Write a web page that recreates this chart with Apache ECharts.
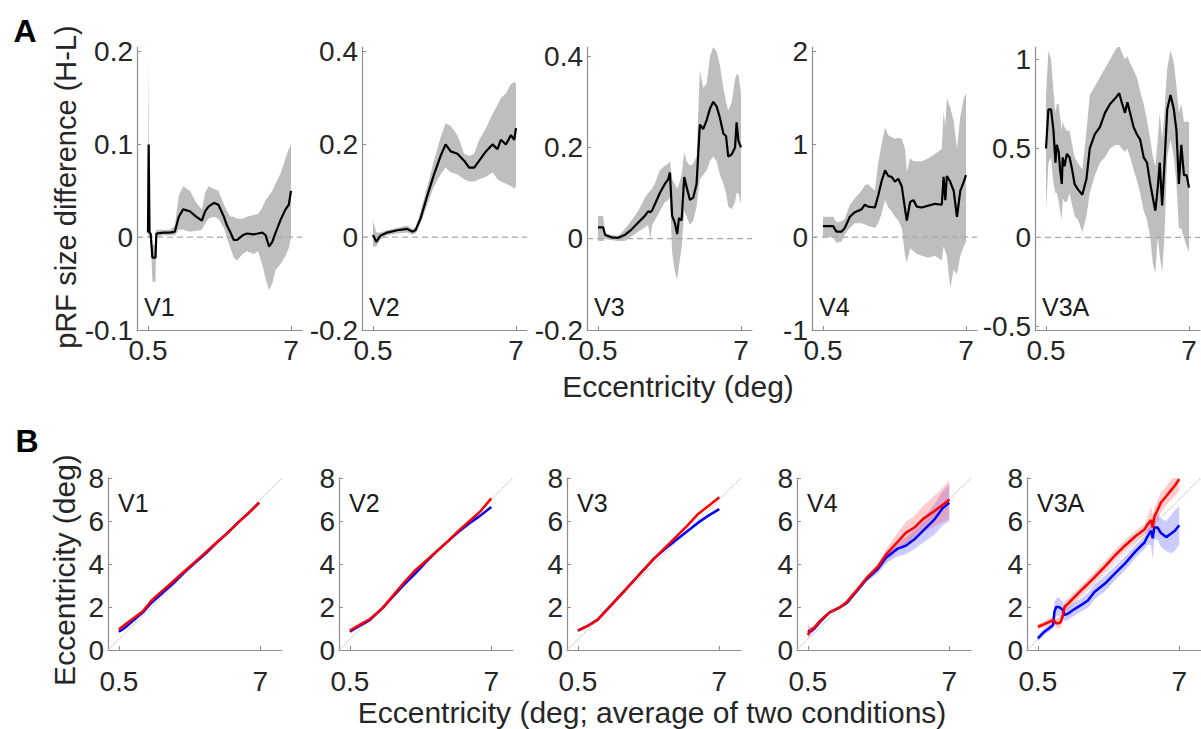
<!DOCTYPE html>
<html>
<head>
<meta charset="utf-8">
<script src="https://cdn.jsdelivr.net/npm/echarts@6/dist/echarts.min.js"></script>
<style>
  html, body { margin: 0; padding: 0; background: #fff; }
  #chart { width: 1201px; height: 729px; }
</style>
</head>
<body>
<div id="chart"></div>
<script>
// ---------- Panel A: pRF size difference (H-L) vs eccentricity ----------
const areaNames = ['V1', 'V2', 'V3', 'V4', 'V3A'];

const v1Ecc  = [0.5, 0.53, 0.57, 0.62, 0.7, 0.84, 0.88, 1.2, 1.5, 1.72, 1.9, 2.1, 2.4, 2.7, 2.95, 3.1, 3.25, 3.5, 3.7, 3.95, 4.1, 4.25, 4.4, 4.55, 4.8, 5.0, 5.3, 5.5, 5.7, 5.85, 6.0, 6.15, 6.3, 6.55, 6.75, 6.9, 7.0];
const v1Mean = [0.005, 0.1, 0.005, 0.004, -0.022, -0.022, 0.004, 0.005, 0.005, 0.006, 0.022, 0.03, 0.028, 0.022, 0.018, 0.028, 0.033, 0.037, 0.035, 0.022, 0.012, 0.005, -0.003, -0.003, 0.002, 0.004, 0.003, 0.004, 0.005, 0.002, -0.01, -0.005, 0.005, 0.02, 0.03, 0.035, 0.05];
const v1Hi   = [0.006, 0.195, 0.01, 0.007, -0.008, -0.008, 0.008, 0.008, 0.008, 0.012, 0.045, 0.055, 0.05, 0.037, 0.03, 0.048, 0.055, 0.052, 0.05, 0.035, 0.028, 0.022, 0.022, 0.02, 0.02, 0.022, 0.024, 0.025, 0.032, 0.04, 0.045, 0.05, 0.058, 0.07, 0.085, 0.095, 0.1];
const v1Lo   = [0.004, 0.0, 0.0, 0.0, -0.048, -0.048, 0.0, 0.002, 0.002, 0.002, 0.008, 0.008, 0.006, 0.007, 0.008, 0.015, 0.02, 0.022, 0.02, 0.01, -0.002, -0.012, -0.022, -0.025, -0.018, -0.015, -0.018, -0.015, -0.03, -0.045, -0.057, -0.05, -0.035, -0.028, -0.02, -0.012, 0.0];

const v2Ecc  = [0.5, 0.65, 0.83, 1.14, 1.6, 2.05, 2.28, 2.43, 2.66, 2.97, 3.27, 3.57, 3.8, 4.03, 4.34, 4.64, 4.87, 5.1, 5.33, 5.63, 5.93, 6.16, 6.31, 6.54, 6.77, 6.92, 7.0];
const v2Mean = [0.005, -0.01, 0.003, 0.01, 0.015, 0.018, 0.012, 0.015, 0.04, 0.09, 0.135, 0.175, 0.2, 0.185, 0.18, 0.165, 0.15, 0.15, 0.165, 0.185, 0.2, 0.19, 0.21, 0.2, 0.22, 0.21, 0.235];
const v2Hi   = [0.035, 0.01, 0.01, 0.015, 0.02, 0.025, 0.018, 0.02, 0.055, 0.11, 0.165, 0.215, 0.245, 0.24, 0.22, 0.18, 0.175, 0.18, 0.21, 0.235, 0.265, 0.285, 0.3, 0.31, 0.33, 0.335, 0.33];
const v2Lo   = [-0.02, -0.02, -0.005, 0.005, 0.008, 0.01, 0.006, 0.008, 0.03, 0.07, 0.11, 0.135, 0.15, 0.14, 0.135, 0.125, 0.12, 0.12, 0.125, 0.13, 0.14, 0.125, 0.12, 0.115, 0.11, 0.105, 0.11];

const v3Ecc  = [0.5, 0.73, 0.83, 1.11, 1.41, 1.71, 2.02, 2.32, 2.63, 2.78, 2.88, 2.96, 3.08, 3.31, 3.54, 3.69, 3.77, 3.87, 3.99, 4.1, 4.18, 4.3, 4.42, 4.52, 4.68, 4.83, 4.98, 5.13, 5.28, 5.44, 5.59, 5.74, 5.89, 6.04, 6.2, 6.32, 6.42, 6.58, 6.73, 6.8, 6.88, 7.0];
const v3Mean = [0.025, 0.025, 0.008, 0.003, 0.002, 0.008, 0.02, 0.035, 0.05, 0.06, 0.058, 0.062, 0.075, 0.1, 0.12, 0.13, 0.145, 0.05, 0.035, 0.01, 0.045, 0.04, 0.135, 0.115, 0.085, 0.09, 0.12, 0.25, 0.24, 0.26, 0.285, 0.3, 0.29, 0.265, 0.23, 0.225, 0.18, 0.185, 0.2, 0.255, 0.215, 0.2];
const v3Hi   = [0.05, 0.05, 0.012, 0.008, 0.006, 0.02, 0.04, 0.06, 0.09, 0.1, 0.105, 0.11, 0.12, 0.15, 0.16, 0.165, 0.17, 0.13, 0.12, 0.11, 0.12, 0.14, 0.19, 0.17, 0.16, 0.165, 0.18, 0.37, 0.33, 0.34, 0.4, 0.42, 0.41, 0.38, 0.33, 0.3, 0.28, 0.3, 0.35, 0.36, 0.36, 0.32];
const v3Lo   = [-0.005, -0.005, 0.0, -0.003, -0.005, -0.005, 0.005, 0.015, 0.025, 0.03, 0.0, 0.03, 0.04, 0.06, 0.08, 0.085, 0.09, -0.03, -0.07, -0.09, -0.06, -0.02, 0.06, 0.05, 0.03, 0.04, 0.07, 0.13, 0.14, 0.15, 0.17, 0.18, 0.17, 0.14, 0.12, 0.1, 0.07, 0.065, 0.08, 0.1, 0.1, 0.075];

const v4Ecc  = [0.5, 0.96, 1.11, 1.34, 1.49, 1.72, 1.95, 2.25, 2.4, 2.55, 2.86, 3.01, 3.16, 3.32, 3.47, 3.62, 3.77, 3.92, 4.08, 4.23, 4.31, 4.46, 4.61, 4.76, 4.99, 5.29, 5.6, 5.9, 5.98, 6.06, 6.13, 6.28, 6.44, 6.59, 6.74, 6.9, 7.0];
const v4Mean = [0.12, 0.12, 0.06, 0.06, 0.1, 0.22, 0.27, 0.3, 0.35, 0.33, 0.32, 0.45, 0.6, 0.72, 0.66, 0.65, 0.6, 0.63, 0.55, 0.3, 0.18, 0.38, 0.4, 0.33, 0.32, 0.34, 0.36, 0.35, 0.65, 0.4, 0.66, 0.6, 0.5, 0.22, 0.5, 0.6, 0.67];
const v4Hi   = [0.22, 0.22, 0.16, 0.17, 0.2, 0.35, 0.42, 0.5, 0.56, 0.57, 0.5, 0.8, 1.0, 1.18, 1.1, 1.08, 1.06, 1.07, 1.06, 0.95, 0.7, 0.85, 0.82, 0.82, 0.82, 0.85, 0.9, 0.95, 1.35, 1.2, 1.5, 1.4, 1.25, 0.95, 1.3, 1.5, 1.55];
const v4Lo   = [0.0, 0.0, -0.06, -0.05, 0.03, 0.1, 0.15, 0.15, 0.14, 0.12, 0.1, 0.15, 0.25, 0.4, 0.32, 0.28, 0.22, 0.18, 0.1, -0.2, -0.27, -0.12, -0.15, -0.18, -0.2, -0.22, -0.2, -0.25, -0.1, -0.15, -0.2, -0.55, -0.35, -0.4, -0.2, -0.1, -0.05];

const v3aEcc  = [0.5, 0.61, 0.73, 0.84, 0.93, 0.99, 1.08, 1.14, 1.22, 1.26, 1.34, 1.45, 1.57, 1.69, 1.8, 1.95, 2.15, 2.34, 2.49, 2.72, 2.95, 3.18, 3.41, 3.64, 3.83, 3.94, 4.09, 4.2, 4.32, 4.48, 4.63, 4.78, 4.94, 5.09, 5.24, 5.36, 5.47, 5.58, 5.67, 5.78, 5.88, 6.01, 6.16, 6.31, 6.43, 6.54, 6.65, 6.77, 6.89, 7.0];
const v3aMean = [0.5, 0.72, 0.72, 0.6, 0.42, 0.52, 0.48, 0.38, 0.3, 0.45, 0.4, 0.47, 0.45, 0.38, 0.3, 0.27, 0.24, 0.33, 0.5, 0.58, 0.62, 0.7, 0.75, 0.78, 0.81, 0.76, 0.7, 0.76, 0.7, 0.62, 0.58, 0.55, 0.45, 0.42, 0.3, 0.22, 0.15, 0.28, 0.42, 0.18, 0.4, 0.72, 0.8, 0.72, 0.6, 0.3, 0.52, 0.35, 0.35, 0.28];
const v3aHi   = [0.8, 1.05, 1.0, 0.82, 0.7, 0.75, 0.75, 0.68, 0.6, 0.65, 0.62, 0.6, 0.6, 0.52, 0.45, 0.42, 0.38, 0.6, 0.8, 0.85, 0.9, 0.95, 1.0, 1.05, 1.08, 1.04, 1.0, 1.02, 0.98, 0.94, 0.9, 0.82, 0.75, 0.66, 0.55, 0.45, 0.4, 0.55, 0.7, 0.55, 0.7, 0.95, 1.05, 0.98, 0.85, 0.7, 0.75, 0.65, 0.65, 0.65];
const v3aLo   = [0.15, 0.42, 0.45, 0.3, 0.25, 0.25, 0.2, 0.15, 0.1, 0.22, 0.2, 0.2, 0.25, 0.18, 0.12, 0.1, 0.03, 0.12, 0.25, 0.35, 0.42, 0.45, 0.5, 0.52, 0.52, 0.5, 0.48, 0.5, 0.45, 0.38, 0.32, 0.25, 0.15, 0.1, 0.0, -0.15, -0.2, 0.0, -0.1, -0.2, 0.0, 0.45, 0.55, 0.45, 0.3, 0.05, 0.05, 0.0, -0.05, -0.08];

const diffYMin   = [-0.1, -0.2, -0.2, -1, -0.52];
const diffYMax   = [0.205, 0.41, 0.42, 2.05, 1.07];
const diffYTicks = [[-0.1, 0, 0.1, 0.2], [-0.2, 0, 0.2, 0.4], [-0.2, 0, 0.2, 0.4], [-1, 0, 1, 2], [-0.5, 0, 0.5, 1]];
const eccTicks   = [0.5, 7];

// ---------- Panel B: eccentricity in each condition vs average eccentricity ----------
const b1Ecc  = [0.5, 0.8, 1.2, 1.6, 2.0, 2.5, 3.0, 3.5, 4.0, 4.5, 5.0, 5.5, 6.0, 6.5, 6.95];
const b1Red  = [0.95, 1.2, 1.5, 1.8, 2.3, 2.75, 3.2, 3.65, 4.1, 4.55, 5.0, 5.45, 5.95, 6.4, 6.85];
const b1Blue = [0.85, 1.05, 1.4, 1.75, 2.2, 2.65, 3.1, 3.6, 4.05, 4.5, 5.0, 5.45, 5.95, 6.4, 6.85];

const b2Ecc  = [0.5, 1.0, 1.4, 2.0, 2.5, 3.0, 3.5, 4.0, 4.5, 5.0, 5.5, 6.0, 6.5, 7.0];
const b2Red  = [0.9, 1.2, 1.42, 1.95, 2.55, 3.15, 3.7, 4.15, 4.6, 5.05, 5.55, 6.0, 6.45, 7.05];
const b2Blue = [0.85, 1.15, 1.38, 1.95, 2.5, 3.05, 3.55, 4.1, 4.6, 5.05, 5.5, 5.9, 6.25, 6.65];

const b3Ecc  = [0.5, 1.0, 1.4, 2.0, 2.5, 3.0, 3.5, 4.0, 4.5, 5.0, 5.5, 6.0, 6.5, 7.0];
const b3Red  = [0.9, 1.15, 1.4, 2.05, 2.6, 3.15, 3.7, 4.25, 4.75, 5.25, 5.75, 6.3, 6.7, 7.1];
const b3Blue = [0.9, 1.15, 1.4, 2.05, 2.6, 3.15, 3.7, 4.25, 4.7, 5.1, 5.5, 5.9, 6.25, 6.55];

const b4Ecc    = [0.5, 0.6, 0.8, 1.1, 1.5, 2.0, 2.3, 2.8, 3.2, 3.7, 4.1, 4.6, 5.0, 5.4, 5.8, 6.3, 6.7, 7.0];
const b4Red    = [0.7, 0.9, 1.05, 1.4, 1.75, 2.0, 2.25, 2.85, 3.35, 3.85, 4.45, 5.0, 5.45, 5.7, 6.1, 6.45, 6.75, 7.0];
const b4RedLo  = [0.5, 0.75, 0.95, 1.32, 1.67, 1.92, 2.17, 2.75, 3.23, 3.7, 4.2, 4.6, 4.95, 5.15, 5.5, 5.75, 5.95, 6.1];
const b4RedHi  = [0.9, 1.05, 1.15, 1.48, 1.83, 2.08, 2.33, 2.95, 3.47, 4.0, 4.7, 5.4, 5.95, 6.25, 6.7, 7.15, 7.55, 7.9];
const b4Blue   = [0.9, 0.85, 1.0, 1.35, 1.75, 2.0, 2.2, 2.8, 3.3, 3.75, 4.3, 4.7, 4.85, 5.15, 5.55, 6.05, 6.6, 6.85];
const b4BlueLo = [0.6, 0.65, 0.9, 1.27, 1.67, 1.92, 2.12, 2.7, 3.18, 3.55, 4.05, 4.35, 4.45, 4.7, 5.0, 5.35, 5.8, 6.0];
const b4BlueHi = [1.2, 1.05, 1.1, 1.43, 1.83, 2.08, 2.28, 2.9, 3.42, 3.95, 4.55, 5.05, 5.25, 5.6, 6.1, 6.75, 7.4, 7.7];

const b5Ecc    = [0.5, 0.8, 1.0, 1.2, 1.26, 1.34, 1.45, 1.55, 1.65, 1.72, 1.88, 2.1, 2.5, 2.8, 3.1, 3.6, 4.0, 4.5, 5.0, 5.4, 5.55, 5.7, 5.78, 5.85, 6.0, 6.15, 6.4, 6.6, 6.8, 7.0];
const b5Red    = [1.08, 1.2, 1.3, 1.39, 1.35, 1.25, 1.25, 1.3, 1.6, 2.0, 2.15, 2.38, 2.78, 3.08, 3.38, 3.9, 4.35, 4.85, 5.3, 5.6, 5.85, 6.05, 5.7, 6.2, 6.5, 6.85, 7.15, 7.4, 7.65, 7.95];
const b5RedLo  = [0.95, 1.05, 1.15, 1.25, 1.15, 1.05, 1.0, 1.05, 1.35, 1.75, 1.95, 2.15, 2.55, 2.85, 3.15, 3.65, 4.1, 4.6, 5.05, 5.35, 5.55, 5.6, 5.4, 5.8, 6.05, 6.4, 6.75, 6.95, 7.15, 7.45];
const b5RedHi  = [1.2, 1.35, 1.45, 1.55, 1.55, 1.45, 1.5, 1.55, 1.85, 2.25, 2.4, 2.6, 3.0, 3.3, 3.6, 4.15, 4.6, 5.1, 5.55, 5.85, 6.2, 6.7, 6.3, 6.6, 6.95, 7.3, 7.6, 7.9, 8.1, 8.3];
const b5Blue   = [0.54, 0.85, 1.0, 1.16, 1.77, 2.0, 2.0, 1.95, 1.85, 1.62, 1.69, 1.85, 2.1, 2.3, 2.7, 3.1, 3.52, 4.02, 4.6, 5.0, 5.3, 5.55, 5.2, 5.7, 5.7, 5.45, 5.25, 5.4, 5.55, 5.8];
const b5BlueLo = [0.4, 0.7, 0.85, 1.0, 1.4, 1.55, 1.6, 1.5, 1.45, 1.35, 1.4, 1.55, 1.8, 1.95, 2.35, 2.75, 3.2, 3.7, 4.3, 4.7, 4.9, 4.9, 4.2, 5.1, 5.15, 4.8, 4.6, 4.5, 4.6, 4.9];
const b5BlueHi = [0.7, 1.0, 1.15, 1.35, 2.2, 2.4, 2.45, 2.35, 2.25, 2.0, 2.0, 2.15, 2.4, 2.65, 3.05, 3.45, 3.85, 4.35, 4.9, 5.3, 5.65, 5.95, 5.6, 6.2, 6.35, 6.1, 6.0, 6.25, 6.5, 6.7];

const eccYTicks = [0, 2, 4, 6, 8];

// ---------- layout and styles ----------
const FONT = '"Liberation Sans", Arial, Helvetica, sans-serif';
const AXIS_COLOR = '#8e8e8e';
const TEXT_COLOR = '#262626';
const TICK_SIZE = 28;
const TITLE_SIZE = 30;

const rowA = { top: 47, bottom: 399, width: 165, lefts: [137, 362, 587, 812, 1035], xMax: 7.5, labelGap: 6 };
const rowB = { top: 478, bottom: 79, width: 174, lefts: [108, 339, 567, 797, 1027], xMax: 8, labelGap: 17 };

const panelsA = [
  { ecc: v1Ecc,  mean: v1Mean,  lo: v1Lo,  hi: v1Hi },
  { ecc: v2Ecc,  mean: v2Mean,  lo: v2Lo,  hi: v2Hi },
  { ecc: v3Ecc,  mean: v3Mean,  lo: v3Lo,  hi: v3Hi },
  { ecc: v4Ecc,  mean: v4Mean,  lo: v4Lo,  hi: v4Hi },
  { ecc: v3aEcc, mean: v3aMean, lo: v3aLo, hi: v3aHi }
];
const panelsB = [
  { ecc: b1Ecc, red: b1Red, blue: b1Blue },
  { ecc: b2Ecc, red: b2Red, blue: b2Blue },
  { ecc: b3Ecc, red: b3Red, blue: b3Blue },
  { ecc: b4Ecc, red: b4Red, blue: b4Blue, redLo: b4RedLo, redHi: b4RedHi, blueLo: b4BlueLo, blueHi: b4BlueHi },
  { ecc: b5Ecc, red: b5Red, blue: b5Blue, redLo: b5RedLo, redHi: b5RedHi, blueLo: b5BlueLo, blueHi: b5BlueHi }
];

const pairs = (xs, ys) => xs.map((x, i) => [x, ys[i]]);

// shaded band between lower and upper bounds, drawn as one polygon
function bandSeries(gi, xs, lo, hi, fill, z) {
  return {
    type: 'custom', xAxisIndex: gi, yAxisIndex: gi, clip: true, silent: true, z,
    data: xs.map((x, i) => [x, lo[i], hi[i]]),
    encode: { x: 0, y: [1, 2] },
    renderItem: (params, api) => {
      if (params.dataIndex !== 0) return null;
      const upper = xs.map((x, i) => api.coord([x, hi[i]]));
      const lower = xs.map((x, i) => api.coord([x, lo[i]])).reverse();
      return { type: 'polygon', shape: { points: upper.concat(lower) }, style: { fill, stroke: null } };
    }
  };
}

function lineSeries(gi, data, color, width, type, z) {
  return {
    type: 'line', xAxisIndex: gi, yAxisIndex: gi, data, showSymbol: false, symbol: 'none',
    silent: true, clip: true, z,
    lineStyle: { color, width, type: type || 'solid' }
  };
}

function xAxisCfg(gi, max, gap) {
  return {
    gridIndex: gi, type: 'value', min: 0, max,
    axisLine: { show: true, onZero: false, lineStyle: { color: AXIS_COLOR, width: 1.2 } },
    axisTick: { show: true, inside: true, length: 4, customValues: eccTicks, lineStyle: { color: AXIS_COLOR } },
    axisLabel: { customValues: eccTicks, fontSize: TICK_SIZE, fontFamily: FONT, color: TEXT_COLOR, margin: gap },
    splitLine: { show: false }
  };
}

function yAxisCfg(gi, min, max, ticks) {
  return {
    gridIndex: gi, type: 'value', min, max,
    axisLine: { show: true, onZero: false, lineStyle: { color: AXIS_COLOR, width: 1.2 } },
    axisTick: { show: true, inside: true, length: 4, customValues: ticks, lineStyle: { color: AXIS_COLOR } },
    axisLabel: { customValues: ticks, fontSize: TICK_SIZE, fontFamily: FONT, color: TEXT_COLOR, margin: 4 },
    splitLine: { show: false }
  };
}

const grids = [], xAxes = [], yAxes = [], series = [], graphics = [];

panelsA.forEach((p, i) => {
  const gi = i;
  grids.push({ left: rowA.lefts[i], top: rowA.top, width: rowA.width, bottom: rowA.bottom });
  xAxes.push(xAxisCfg(gi, rowA.xMax, rowA.labelGap));
  yAxes.push(yAxisCfg(gi, diffYMin[i], diffYMax[i], diffYTicks[i]));
  series.push(bandSeries(gi, p.ecc, p.lo, p.hi, '#bebebe', 1));
  series.push(lineSeries(gi, [[0, 0], [rowA.xMax, 0]], '#a8a8a8', 1.2, [6, 4], 2));
  series.push(lineSeries(gi, pairs(p.ecc, p.mean), '#000000', 2.2, 'solid', 3));
  graphics.push({
    type: 'text', x: rowA.lefts[i] + 7, y: 307,
    style: { text: areaNames[i], font: '25px ' + FONT, fill: '#1a1a1a', verticalAlign: 'middle', align: 'left' }
  });
});

panelsB.forEach((p, i) => {
  const gi = 5 + i;
  grids.push({ left: rowB.lefts[i], top: rowB.top, width: rowB.width, bottom: rowB.bottom });
  xAxes.push(xAxisCfg(gi, rowB.xMax, rowB.labelGap));
  yAxes.push(yAxisCfg(gi, 0, 8, eccYTicks));
  series.push(lineSeries(gi, [[0, 0], [8, 8]], '#c4c4c4', 1.2, 'dotted', 1));
  if (p.blueLo) series.push(bandSeries(gi, p.ecc, p.blueLo, p.blueHi, 'rgba(70, 70, 255, 0.28)', 2));
  if (p.redLo) series.push(bandSeries(gi, p.ecc, p.redLo, p.redHi, 'rgba(255, 70, 70, 0.28)', 2));
  series.push(lineSeries(gi, pairs(p.ecc, p.blue), '#0000ff', 2.5, 'solid', 3));
  series.push(lineSeries(gi, pairs(p.ecc, p.red), '#ff0000', 2.5, 'solid', 4));
  graphics.push({
    type: 'text', x: rowB.lefts[i] + 10, y: 503,
    style: { text: areaNames[i], font: '25px ' + FONT, fill: '#1a1a1a', verticalAlign: 'middle', align: 'left' }
  });
});

// panel letters and shared axis titles
graphics.push(
  { type: 'text', x: 25, y: 31, style: { text: 'A', font: 'bold 32px ' + FONT, fill: '#000', align: 'center', verticalAlign: 'middle' } },
  { type: 'text', x: 27, y: 441, style: { text: 'B', font: 'bold 32px ' + FONT, fill: '#000', align: 'center', verticalAlign: 'middle' } },
  { type: 'text', x: 66, y: 187, rotation: Math.PI / 2,
    style: { text: 'pRF size difference (H-L)', font: '29px ' + FONT, fill: TEXT_COLOR, align: 'center', verticalAlign: 'middle' } },
  { type: 'text', x: 678, y: 386,
    style: { text: 'Eccentricity (deg)', font: TITLE_SIZE + 'px ' + FONT, fill: TEXT_COLOR, align: 'center', verticalAlign: 'middle' } },
  { type: 'text', x: 64, y: 570, rotation: Math.PI / 2,
    style: { text: 'Eccentricity (deg)', font: TITLE_SIZE + 'px ' + FONT, fill: TEXT_COLOR, align: 'center', verticalAlign: 'middle' } },
  { type: 'text', x: 652, y: 712,
    style: { text: 'Eccentricity (deg; average of two conditions)', font: TITLE_SIZE + 'px ' + FONT, fill: TEXT_COLOR, align: 'center', verticalAlign: 'middle' } }
);

const chart = echarts.init(document.getElementById('chart'), null, { renderer: 'svg' });
chart.setOption({
  animation: false,
  backgroundColor: '#ffffff',
  grid: grids,
  xAxis: xAxes,
  yAxis: yAxes,
  series,
  graphic: graphics
});
</script>
</body>
</html>
